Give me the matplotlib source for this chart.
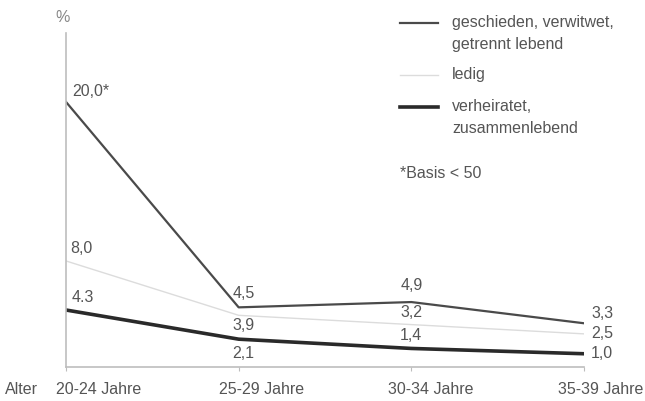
import matplotlib
matplotlib.use("Agg")
import matplotlib.pyplot as plt

# Daten (Prozent) nach Altersgruppe
altersgruppen = ["20-24 Jahre", "25-29 Jahre", "30-34 Jahre", "35-39 Jahre"]
geschieden = [20.0, 4.5, 4.9, 3.3]
ledig = [8.0, 3.9, 3.2, 2.5]
verheiratet = [4.3, 2.1, 1.4, 1.0]

lab_geschieden = ["20,0*", "4,5", "4,9", "3,3"]
lab_ledig = ["8,0", "3,9", "3,2", "2,5"]
lab_verheiratet = ["4.3", "2,1", "1,4", "1,0"]

plt.rcParams["font.family"] = ["Liberation Sans Narrow", "Liberation Sans", "DejaVu Sans"]
GRAU = "#555555"
fs = 11.5

fig = plt.figure(figsize=(6.45, 4.01), dpi=100)
ax = fig.add_axes([66 / 645, 34 / 401, 518 / 645, 334 / 401])
x = list(range(len(altersgruppen)))

ax.plot(x, ledig, color="#dcdcdc", linewidth=1.0)
ax.plot(x, geschieden, color="#4a4a4a", linewidth=1.6)
ax.plot(x, verheiratet, color="#2a2a2a", linewidth=2.6)

ax.set_xlim(0, 3)
ax.set_ylim(0, 25.2)
for s in ("top", "right"):
    ax.spines[s].set_visible(False)
for s in ("left", "bottom"):
    ax.spines[s].set_color("#bdbdbd")
    ax.spines[s].set_linewidth(1.2)
ax.set_yticks([])
ax.set_xticks(x)
ax.set_xticklabels([])
ax.tick_params(axis="x", length=3, color="#bdbdbd")

# Achsenbeschriftung (leicht nach rechts versetzt wie im Original)
versatz = [33, 23, 19, 17]
for i, t in enumerate(altersgruppen):
    ax.annotate(t, (i, 0), xytext=(versatz[i], -23), textcoords="offset pixels",
                ha="center", va="center", fontsize=fs, color=GRAU,
                annotation_clip=False)
fig.text(5 / 645, 1 - 390 / 401, "Alter", fontsize=fs, color=GRAU, va="center")
fig.text(55 / 645, 1 - 17 / 401, "%", fontsize=fs, color="#888888", va="center")


# Werte an den Punkten
def beschriften(werte, texte, offsets):
    for i, (v, t, (dx, dy)) in enumerate(zip(werte, texte, offsets)):
        ha = "left" if i in (0, 3) else "center"
        ax.annotate(t, (i, v), xytext=(dx, dy), textcoords="offset pixels",
                    ha=ha, va="center", fontsize=fs, color=GRAU,
                    annotation_clip=False)


beschriften(geschieden, lab_geschieden, [(6, 10), (5, 14), (0, 17), (7, 10)])
beschriften(ledig, lab_ledig, [(4, 12), (5, -10), (0, 12), (7, 0)])
beschriften(verheiratet, lab_verheiratet, [(6, 13), (5, -14), (0, 13), (7, 0)])

# Legende
leg = [
    ("#4a4a4a", 1.6, "geschieden, verwitwet,\ngetrennt lebend", 23),
    ("#dcdcdc", 1.0, "ledig", 75),
    ("#2a2a2a", 2.6, "verheiratet,\nzusammenlebend", 107),
]
for farbe, lw, text, y in leg:
    yf = 1 - y / 401
    fig.add_artist(plt.Line2D([400 / 645, 438 / 645], [yf, yf], color=farbe, linewidth=lw))
    fig.text(452 / 645, yf + 8 / 401, text, fontsize=fs, color=GRAU, va="top",
             linespacing=1.6)
fig.text(400 / 645, 1 - 173 / 401, "*Basis < 50", fontsize=fs, color=GRAU, va="center")

fig.savefig("out.png", dpi=100)
plt.close(fig)
